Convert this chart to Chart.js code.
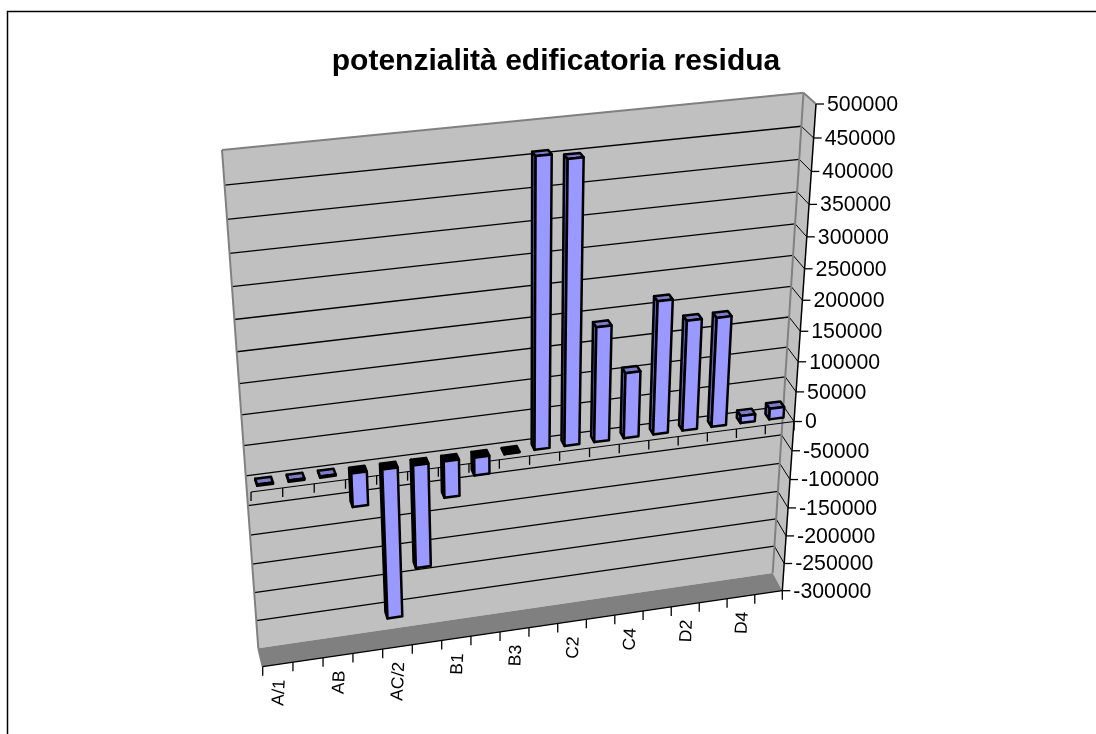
<!DOCTYPE html>
<html><head><meta charset="utf-8">
<style>html,body{margin:0;padding:0;background:#fff}canvas{display:block}</style>
<script src="https://cdn.jsdelivr.net/npm/chart.js@4/dist/chart.umd.js"></script>
</head><body><canvas id="c" width="1096" height="734"></canvas>
<script>
const chartTitle = 'potenzialità edificatoria residua';
const categories = ['A/1','A/2','AB','AC/1','AC/2','AC/3','B1','B2','B3','C1','C2','C3','C4','D1','D2','D3','D4','D5'];
const values = [2000,2000,2000,-56000,-257000,-175000,-61000,-30000,-1000,459000,450000,188000,108000,218000,181000,180000,12000,18000];
const axisMin = -300000, axisMax = 500000, axisStep = 50000;

// Camera: the plot box corners on screen. Back wall, then front plane.
const backQuad  = [[222,150],[803.5,92.7],[772.7,573],[258.3,648.3]];
const frontQuad = [[229,162],[816,104],[782.3,590.7],[262.7,666.7]];
const barDepth = [0.32,0.68];

function homography(q){
  const [[x0,y0],[x1,y1],[x2,y2],[x3,y3]] = q;
  const dx1=x1-x2,dx2=x3-x2,sx=x0-x1+x2-x3,dy1=y1-y2,dy2=y3-y2,sy=y0-y1+y2-y3;
  const den=dx1*dy2-dx2*dy1, g=(sx*dy2-dx2*sy)/den, h=(dx1*sy-sx*dy1)/den;
  const a=x1-x0+g*x1,b=x3-x0+h*x3,d=y1-y0+g*y1,e=y3-y0+h*y3;
  return (u,v)=>{const w=g*u+h*v+1;return [(a*u+b*v+x0)/w,(d*u+e*v+y0)/w];};
}
const hBack=homography(backQuad), hFront=homography(frontQuad);
let area=null;
// Chart.js pixel (inside chartArea) + depth -> screen
function P(px,py,depth){
  const u=(px-area.left)/(area.right-area.left), v=(py-area.top)/(area.bottom-area.top);
  const b=hBack(u,v), f=hFront(u,v);
  return [b[0]+(f[0]-b[0])*depth, b[1]+(f[1]-b[1])*depth];
}
function poly(ctx,pts,fill,stroke,lw){
  ctx.beginPath();pts.forEach((p,i)=>i?ctx.lineTo(p[0],p[1]):ctx.moveTo(p[0],p[1]));ctx.closePath();
  if(fill){ctx.fillStyle=fill;ctx.fill();}
  if(stroke){ctx.strokeStyle=stroke;ctx.lineWidth=lw;ctx.lineJoin='round';ctx.stroke();}
}
function line(ctx,a,b,color,lw){ctx.beginPath();ctx.moveTo(a[0],a[1]);ctx.lineTo(b[0],b[1]);ctx.strokeStyle=color;ctx.lineWidth=lw;ctx.stroke();}

// Bars keep their Chart.js geometry, and are only drawn through the projection as boxes.
Chart.BarElement.prototype.draw=function(ctx){
  if(!area) return;
  const {x,y,base,width}=this, l=x-width/2, r=x+width/2;
  const top=Math.min(y,base), bot=Math.max(y,base), neg=y>base;
  const [dB,dF]=barDepth, fill=this.options.backgroundColor, edge=this.options.borderColor, lw=this.options.borderWidth||2;
  const sideCol=neg?'#000000':'#5F5FB0', topCol=neg?'#000000':'#7C7CC8';
  ctx.save();
  poly(ctx,[P(l,top,dF),P(l,top,dB),P(l,bot,dB),P(l,bot,dF)],sideCol,edge,lw);
  poly(ctx,[P(l,top,dB),P(r,top,dB),P(r,top,dF),P(l,top,dF)],topCol,edge,lw);
  poly(ctx,[P(l,top,dF),P(r,top,dF),P(r,bot,dF),P(l,bot,dF)],fill,edge,lw);
  ctx.restore();
};

const box3d={
  id:'box3d',
  beforeDraw(chart){
    area=chart.chartArea;
    const ctx=chart.ctx,{x:xs,y:ys}=chart.scales,{left:L,right:R,top:T,bottom:B}=area;
    // frame
    ctx.save();
    ctx.beginPath();ctx.moveTo(7.5,734);ctx.lineTo(7.5,11.5);ctx.lineTo(1096,11.5);
    ctx.strokeStyle='#000';ctx.lineWidth=1.5;ctx.stroke();
    // walls and floor
    poly(ctx,[P(L,T,0),P(R,T,0),P(R,B,0),P(L,B,0)],'#C0C0C0');
    poly(ctx,[P(R,T,0),P(R,T,1),P(R,B,1),P(R,B,0)],'#C0C0C0');
    poly(ctx,[P(L,B,0),P(R,B,0),P(R,B,1),P(L,B,1)],'#808080');
    // gridlines
    ys.ticks.forEach(t=>{
      const py=ys.getPixelForValue(t.value);
      if(t.value!==axisMax && t.value!==axisMin) line(ctx,P(L,py,0),P(R,py,0),'#000',1.3);
      if(t.value!==axisMax && t.value!==axisMin) line(ctx,P(R,py,0),P(R,py,1),'#000',1);
      const f=P(R,py,1); line(ctx,f,[f[0]+8,f[1]],'#000',1.3);
    });
    // wall edges
    [[P(L,T,0),P(R,T,0)],[P(L,T,0),P(L,B,0)],[P(R,T,0),P(R,B,0)],[P(R,T,0),P(R,T,1)],[P(L,B,0),P(L,B,1)]]
      .forEach(([a,b])=>line(ctx,a,b,'#808080',2));
    // value axis line, front floor line, zero line and their ticks
    line(ctx,P(R,T,1),P(R,B,1),'#000',1.5);
    line(ctx,P(L,B,1),P(R,B,1),'#000',1.2);
    const zero=ys.getPixelForValue(0);
    line(ctx,P(L,zero,1),P(R,zero,1),'#000',1.2);
    for(let i=0;i<=categories.length;i++){
      const px=xs.getPixelForValue(i-0.5);
      const a=P(px,B,1); line(ctx,a,[a[0],a[1]+9],'#000',1.3);
      const z=P(px,zero,1); line(ctx,z,[z[0],z[1]+9],'#000',1.3);
    }
    ctx.restore();
    // move the library's own tick labels onto the projected axes
    ys.getLabelItems(area).forEach((it,i)=>{
      const f=P(R,ys.getPixelForValue(ys.ticks[i].value),1);
      it.textOffset=0;
      Object.assign(it.options,{translation:[f[0]+11,f[1]+1],rotation:0,textAlign:'left',textBaseline:'middle'});
    });
    xs.getLabelItems(area).forEach((it,i)=>{
      const f=P(xs.getPixelForValue(xs.ticks[i].value),B,1);
      it.textOffset=0;
      Object.assign(it.options,{translation:[f[0]+2,f[1]+15],rotation:-87*Math.PI/180,textAlign:'right',textBaseline:'middle'});
    });
  }
};

new Chart(document.getElementById('c'),{
  type:'bar',
  data:{labels:categories,datasets:[{label:chartTitle,data:values,backgroundColor:'#9999FF',borderColor:'#000000',borderWidth:2.5,barPercentage:0.5,categoryPercentage:1}]},
  plugins:[box3d],
  options:{
    responsive:false,animation:false,
    layout:{padding:{top:44,left:16,right:0,bottom:0}},
    plugins:{
      legend:{display:false},tooltip:{enabled:false},
      title:{display:true,text:chartTitle,color:'#000',padding:0,font:{family:'"Liberation Sans"',size:30,weight:'bold'}}
    },
    scales:{
      x:{grid:{display:false},border:{display:false},
         ticks:{mirror:true,autoSkip:false,maxRotation:0,color:'#000',font:{family:'"Liberation Sans"',size:17.5},
                callback(v,i){return i%2===0?this.getLabelForValue(v):'';}}},
      y:{position:'right',min:axisMin,max:axisMax,grid:{display:false},border:{display:false},
         ticks:{mirror:true,stepSize:axisStep,color:'#000',font:{family:'"Liberation Sans"',size:21.3},callback:v=>String(v)}}
    }
  }
});
</script></body></html>
